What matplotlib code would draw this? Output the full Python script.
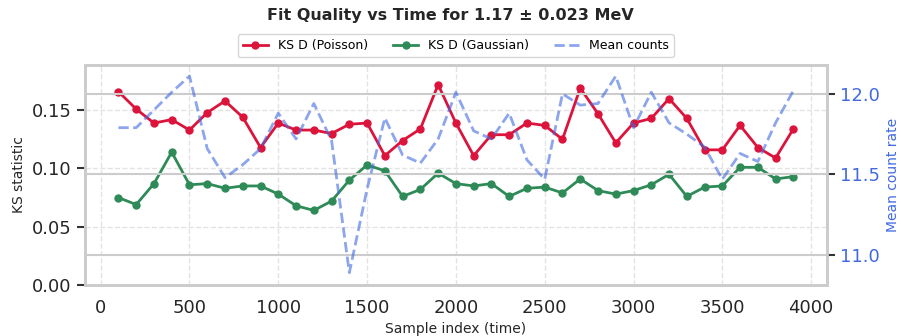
import matplotlib
matplotlib.use("Agg")
import matplotlib.pyplot as plt

sample_index = [100 * i for i in range(1, 40)]

ks_poisson = [0.166, 0.151, 0.139, 0.142, 0.133, 0.148, 0.158, 0.144, 0.118, 0.139,
              0.133, 0.133, 0.130, 0.138, 0.139, 0.111, 0.124, 0.134, 0.172, 0.139,
              0.111, 0.129, 0.129, 0.139, 0.137, 0.125, 0.169, 0.147, 0.122, 0.139,
              0.143, 0.160, 0.143, 0.116, 0.116, 0.137, 0.118, 0.109, 0.134]

ks_gaussian = [0.075, 0.069, 0.087, 0.114, 0.086, 0.087, 0.083, 0.085, 0.085, 0.078,
               0.068, 0.064, 0.072, 0.090, 0.103, 0.098, 0.076, 0.082, 0.096, 0.087,
               0.085, 0.087, 0.076, 0.083, 0.084, 0.079, 0.091, 0.081, 0.078, 0.081,
               0.086, 0.095, 0.076, 0.084, 0.085, 0.101, 0.101, 0.091, 0.093]

mean_counts = [11.79, 11.79, 11.90, 12.01, 12.11, 11.66, 11.48, 11.56, 11.66, 11.88,
               11.72, 11.94, 11.71, 10.89, 11.41, 11.85, 11.62, 11.57, 11.72, 12.01,
               11.77, 11.72, 11.88, 11.59, 11.47, 12.00, 11.93, 11.94, 12.11, 11.79,
               12.01, 11.82, 11.75, 11.67, 11.47, 11.63, 11.58, 11.82, 12.02]

fig = plt.figure(figsize=(9.01, 3.36), dpi=100)
ax = fig.add_axes([0.094, 0.152, 0.824, 0.655])
ax2 = ax.twinx()

l1, = ax.plot(sample_index, ks_poisson, color="crimson", marker="o", ms=5, lw=2,
              label="KS D (Poisson)")
l2, = ax.plot(sample_index, ks_gaussian, color="seagreen", marker="o", ms=5, lw=2,
              label="KS D (Gaussian)")
l3, = ax2.plot(sample_index, mean_counts, color="royalblue", ls="--", lw=2, alpha=0.6,
               label="Mean counts")

ax.set_ylim(0, 0.189)
ax.set_yticks([0.0, 0.05, 0.10, 0.15])
ax.set_yticklabels(["0.00", "0.05", "0.10", "0.15"])
ax.set_xticks(range(0, 4001, 500))
ax2.set_ylim(10.814, 12.18)
ax2.set_yticks([11.0, 11.5, 12.0])

ax.grid(True, ls="--", color="#dddddd", lw=1, alpha=0.8)
ax2.grid(True, axis="y", ls="-", color="#cccccc", lw=1.5)
ax2.set_axisbelow(True)

for a in (ax, ax2):
    for s in a.spines.values():
        s.set_color("#cccccc")
        s.set_linewidth(2)

ax.tick_params(axis="y", labelsize=13, length=6, width=1.5, color="#333333",
               labelcolor="#262626")
ax.tick_params(axis="x", labelsize=13, length=0, pad=10, labelcolor="#262626")
ax2.tick_params(axis="y", labelsize=13, length=6, width=1.5, color="#333333",
                labelcolor="royalblue")

ax.set_xlabel("Sample index (time)", fontsize=10, color="#262626")
ax.set_ylabel("KS statistic", fontsize=10, color="#262626")
ax2.set_ylabel("Mean count rate", fontsize=10, color="royalblue")

ax.legend(handles=[l1, l2, l3], loc="lower center", bbox_to_anchor=(0.5, 1.005),
          ncol=3, fontsize=9, frameon=True, edgecolor="#cccccc", handlelength=2)
fig.suptitle("Fit Quality vs Time for 1.17 ± 0.023 MeV", fontsize=11.5,
             fontweight="bold", color="#262626", y=0.975)

fig.savefig("out.png", dpi=100)
